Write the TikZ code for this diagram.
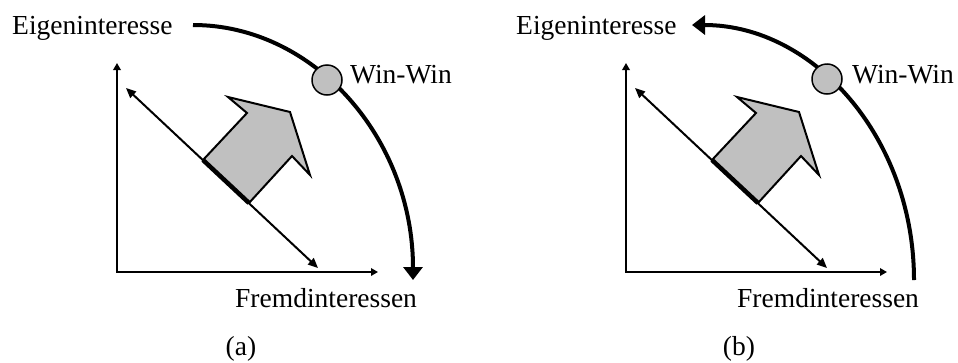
\documentclass[tikz,border=0pt]{standalone}
\usepackage{fontspec}
\setmainfont{Liberation Serif}
\usetikzlibrary{arrows.meta}
\definecolor{shade}{HTML}{C0C0C0}
\tikzset{
  lbl/.style={anchor=base west, inner sep=0pt, font=\fontsize{27.5}{33}\selectfont},
  capt/.style={anchor=base, inner sep=0pt, font=\fontsize{27.5}{33}\selectfont},
  axes/.style={line width=2.5pt, line join=miter, {Triangle[width=7.5pt,length=7pt]}-{Triangle[width=7.5pt,length=7pt]}},
  diag/.style={line width=2pt, {Triangle[width=8.5pt,length=10pt]}-{Triangle[width=8.5pt,length=10pt]}},
  bigarrow/.style={draw, line width=2pt, fill=shade, line join=miter},
  basethick/.style={line width=4.5pt},
  curve/.style={line width=4pt},
  curvetip/.style={line width=4pt, -{Triangle[width=19pt,length=13pt]}},
  winwin/.style={circle, draw, line width=1.5pt, fill=shade, minimum size=30pt, inner sep=0pt},
}
\newcommand\quadpanel[2]{%
\begin{scope}[xshift=#2pt]
  \coordinate (#1o) at (117,272);
  \coordinate (#1y) at (117,63);
  \coordinate (#1x) at (378,272);
  \coordinate (#1d1) at (126,88);
  \coordinate (#1d2) at (318,268);
  \draw[axes] (#1y) -- (#1o) -- (#1x);
  \draw[diag] (#1d1) -- (#1d2);
  \coordinate (#1A) at (203,160);
  \coordinate (#1B) at (247,113);
  \coordinate (#1C) at (228,97);
  \coordinate (#1D) at (290,112);
  \coordinate (#1E) at (310,175);
  \coordinate (#1F) at (292,156);
  \coordinate (#1G) at (249,203);
  \draw[bigarrow] (#1A) -- (#1B) -- (#1C) -- (#1D) -- (#1E) -- (#1F) -- (#1G) -- cycle;
  \draw[basethick] (#1A) -- (#1G);
\end{scope}}
\begin{document}
\begin{tikzpicture}[x=1pt, y=-1pt]
  \useasboundingbox (0,0) rectangle (958,362);
  % panel (a)
  \quadpanel{a}{0}
  \coordinate (aS) at (193,25);
  \coordinate (aE) at (413,280);
  \draw[curvetip] (aS) .. controls (314.5,25) and (413,139) .. (aE);
  \node[winwin] (aW) at (327,80) {};
  \node[lbl] (aEig) at (12,34) {Eigeninteresse};
  \node[lbl] (aWin) at (350,83) {Win-Win};
  \node[lbl] (aFrem) at (235,307) {Fremdinteressen};
  \node[capt] (aCap) at (241,355) {(a)};
  % panel (b)
  \quadpanel{b}{509}
  \coordinate (bS) at (914,280);
  \coordinate (bE) at (692,25);
  \draw[curvetip] (bS) .. controls (914,139) and (814.5,25) .. (bE);
  \node[winwin] (bW) at (827,79) {};
  \node[lbl] (bEig) at (516,34) {Eigeninteresse};
  \node[lbl] (bWin) at (852,83) {Win-Win};
  \node[lbl] (bFrem) at (737,307) {Fremdinteressen};
  \node[capt] (bCap) at (739,355) {(b)};
\end{tikzpicture}
\end{document}
